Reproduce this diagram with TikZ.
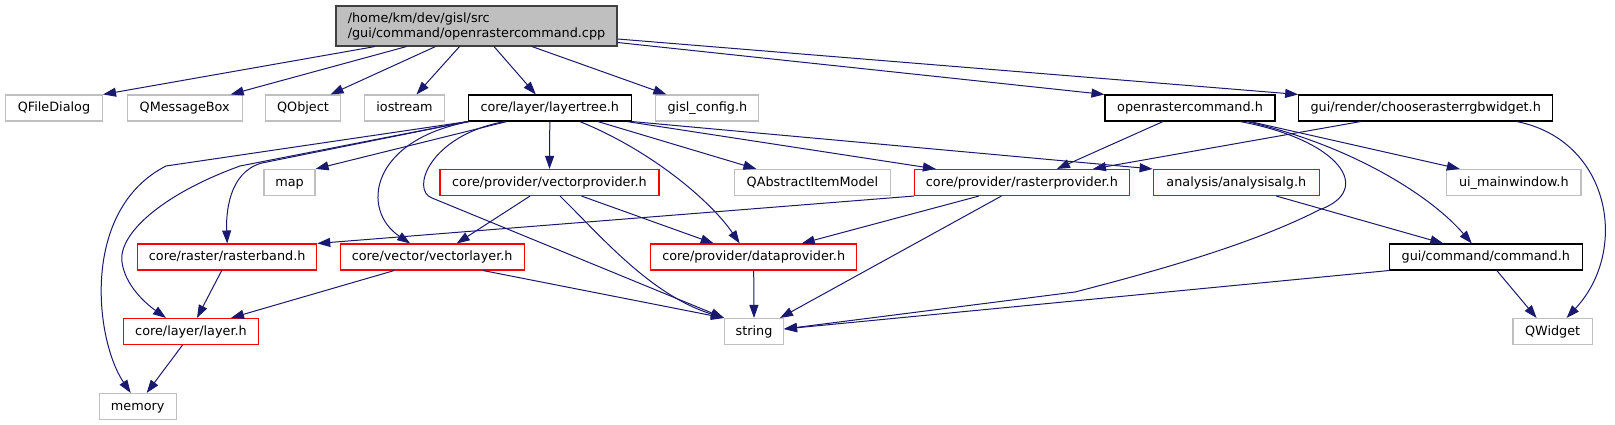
\documentclass[tikz,border=0pt]{standalone}
\usepackage{fontspec}
\setmainfont{DejaVu Sans}
\usetikzlibrary{arrows.meta}
\definecolor{IncBlue}{RGB}{25,25,112}
\definecolor{IncRed}{RGB}{255,0,0}
\definecolor{IncGray}{RGB}{191,191,191}
\tikzset{
  inc/file/.style={
    draw=black,
    line width=1.1pt,
    fill=white,
    inner sep=0pt,
    minimum height=26pt,
    text height=9.6pt,
    text depth=2.5pt,
    text=black,
    font=\fontsize{12.8}{15}\selectfont
  },
  inc/red/.style={inc/file, draw=IncRed},
  inc/sys/.style={inc/file, draw=IncGray},
  inc/root/.style={
    draw=black!75,
    line width=1.1pt,
    fill=IncGray,
    inner sep=0pt,
    align=left,
    minimum height=40pt,
    text=black,
    font=\fontsize{12.8}{15}\selectfont
  },
  inc/arrow/.style={-{Triangle[length=13pt,width=9pt]}, line width=1pt, draw=IncBlue}
}

\begin{document}
\begin{tikzpicture}[x=1pt,y=-1pt]
  \useasboundingbox[fill=white] (0,0) rectangle (1615,425);

  \node[inc/root,minimum width=281pt] (root) at (476.5,26) {/home/km/dev/gisl/src\\/gui/command/openrastercommand.cpp};

  \node[inc/sys,minimum width=97pt] (qfiledialog) at (54,108) {QFileDialog};
  \node[inc/sys,minimum width=115pt] (qmessagebox) at (184.7,108) {QMessageBox};
  \node[inc/sys,minimum width=75pt] (qobject) at (303,108) {QObject};
  \node[inc/sys,minimum width=80pt] (iostream) at (404.5,108) {iostream};
  \node[inc/file,minimum width=163pt] (layertree) at (549.8,108) {core/layer/layertree.h};
  \node[inc/sys,minimum width=103pt] (gislconfig) at (707.4,108) {gisl\_config.h};
  \node[inc/file,minimum width=170pt] (orcheader) at (1190,108) {openrastercommand.h};
  \node[inc/file,minimum width=254pt] (chooser) at (1425.7,108) {gui/render/chooserasterrgbwidget.h};

  \node[inc/sys,minimum width=51pt] (map) at (289.5,182.5) {map};
  \node[inc/red,minimum width=219pt] (vectorprovider) at (549.5,182.5) {core/provider/vectorprovider.h};
  \node[inc/sys,minimum width=155.6pt] (qabstract) at (812.4,182.5) {QAbstractItemModel};
  \node[inc/red,minimum width=215pt] (rasterprovider) at (1021.9,182.5) {core/provider/rasterprovider.h};
  \node[inc/red,minimum width=166.3pt] (analysisalg) at (1236.3,182.5) {analysis/analysisalg.h};
  \node[inc/sys,minimum width=134.3pt] (uimainwindow) at (1513.8,182.5) {ui\_mainwindow.h};

  \node[inc/red,minimum width=179pt] (rasterband) at (227.2,257) {core/raster/rasterband.h};
  \node[inc/red,minimum width=184.3pt] (vectorlayer) at (432.2,257) {core/vector/vectorlayer.h};
  \node[inc/red,minimum width=206.3pt] (dataprovider) at (753.7,257) {core/provider/dataprovider.h};
  \node[inc/file,minimum width=193pt] (command) at (1485.8,257) {gui/command/command.h};

  \node[inc/red,minimum width=134.7pt] (layer) at (191,331.5) {core/layer/layer.h};
  \node[inc/sys,minimum width=58.9pt] (string) at (754,331.5) {string};
  \node[inc/sys,minimum width=79.2pt] (qwidget) at (1552.6,331.5) {QWidget};

  \node[inc/sys,minimum width=77.1pt] (memory) at (137.7,406.5) {memory};

  \draw[inc/arrow] ([xshift=-101.5pt]root.south) -- (qfiledialog.north east);
  \draw[inc/arrow] ([xshift=-70pt]root.south) -- ([xshift=46pt]qmessagebox.north);
  \draw[inc/arrow] ([xshift=-41pt]root.south) -- ([xshift=27.5pt]qobject.north);
  \draw[inc/arrow] ([xshift=-17pt]root.south) -- ([xshift=12pt]iostream.north);
  \draw[inc/arrow] ([xshift=17.5pt]root.south) -- ([xshift=-14pt]layertree.north);
  \draw[inc/arrow] ([xshift=55.5pt]root.south) -- ([xshift=-41pt]gislconfig.north);
  \draw[inc/arrow] ([yshift=-16.5pt]root.east) -- (orcheader.north west);
  \draw[inc/arrow] ([yshift=-13pt]root.east) -- (chooser.north west);

  \draw[inc/arrow] (layertree.south west) -- (166,166) .. controls (80,210) and (95,340) .. ([xshift=-7pt]memory.north);
  \draw[inc/arrow] (layertree.south west) -- (240,166) .. controls (160,195) and (118,235) .. (122,262)
    .. controls (125,285) and (145,303) .. ([xshift=-25pt]layer.north);
  \draw[inc/arrow] (layertree.south west) -- (262,163) .. controls (228,172) and (226,215) .. (rasterband.north);
  \draw[inc/arrow] ([xshift=-43pt]layertree.south) -- (map.north east);
  \draw[inc/arrow] ([xshift=-80pt]layertree.south) .. controls (370,140) and (360,210) .. ([xshift=-22pt]vectorlayer.north);
  \draw[inc/arrow] ([xshift=-45pt]layertree.south) .. controls (430,135) and (410,190) .. (432,198) -- (string.north west);
  \draw[inc/arrow] (layertree.south) -- (vectorprovider.north);
  \draw[inc/arrow] ([xshift=30pt]layertree.south) .. controls (650,150) and (710,200) .. ([xshift=-14pt]dataprovider.north);
  \draw[inc/arrow] ([xshift=48pt]layertree.south) -- ([xshift=-56pt]qabstract.north);
  \draw[inc/arrow] ([xshift=-5pt]layertree.south east) -- ([xshift=-86pt]rasterprovider.north);
  \draw[inc/arrow] (layertree.south east) -- (analysisalg.north west);

  \draw[inc/arrow] ([xshift=-19.5pt]vectorprovider.south) -- ([xshift=24.5pt]vectorlayer.north);
  \draw[inc/arrow] ([xshift=10.5pt]vectorprovider.south) .. controls (600,235) and (650,295) .. (string.north west);
  \draw[inc/arrow] ([xshift=32pt]vectorprovider.south) -- ([xshift=-40pt]dataprovider.north);

  \draw[inc/arrow] (rasterprovider.south west) -- (rasterband.north east);
  \draw[inc/arrow] ([xshift=-43pt]rasterprovider.south) -- ([xshift=48pt]dataprovider.north);
  \draw[inc/arrow] ([xshift=-20.5pt]rasterprovider.south) -- ([xshift=26pt]string.north);

  \draw[inc/arrow] ([xshift=-27pt]orcheader.south) -- ([xshift=35pt]rasterprovider.north);
  \draw[inc/arrow] ([xshift=50pt]orcheader.south) .. controls (1340,140) and (1375,190) .. (1319,210)
    .. controls (1260,240) and (1180,265) .. (1075,292) -- ([yshift=2.5pt]string.east);
  \draw[inc/arrow] ([xshift=57pt]orcheader.south) .. controls (1350,145) and (1430,195) .. ([xshift=-14pt]command.north);
  \draw[inc/arrow] ([xshift=60pt]orcheader.south) -- ([xshift=-54pt]uimainwindow.north);

  \draw[inc/arrow] ([xshift=-65pt]chooser.south) -- ([xshift=71pt]rasterprovider.north);
  \draw[inc/arrow] ([xshift=91pt]chooser.south) .. controls (1610,140) and (1630,250) .. ([xshift=14pt]qwidget.north);

  \draw[inc/arrow] ([xshift=40pt]analysisalg.south) -- ([xshift=-42.5pt]command.north);
  \draw[inc/arrow] (command.south west) -- ([yshift=2.5pt]string.east);
  \draw[inc/arrow] ([xshift=11pt]command.south) -- ([xshift=-16pt]qwidget.north);

  \draw[inc/arrow] ([xshift=-5.5pt]rasterband.south) -- ([xshift=6pt]layer.north);
  \draw[inc/arrow] ([xshift=-38pt]vectorlayer.south) -- ([xshift=40pt]layer.north);
  \draw[inc/arrow] ([xshift=51pt]vectorlayer.south) -- (string.north west);
  \draw[inc/arrow] (dataprovider.south) -- (string.north);
  \draw[inc/arrow] ([xshift=-8.5pt]layer.south) -- ([xshift=9pt]memory.north);
\end{tikzpicture}
\end{document}
